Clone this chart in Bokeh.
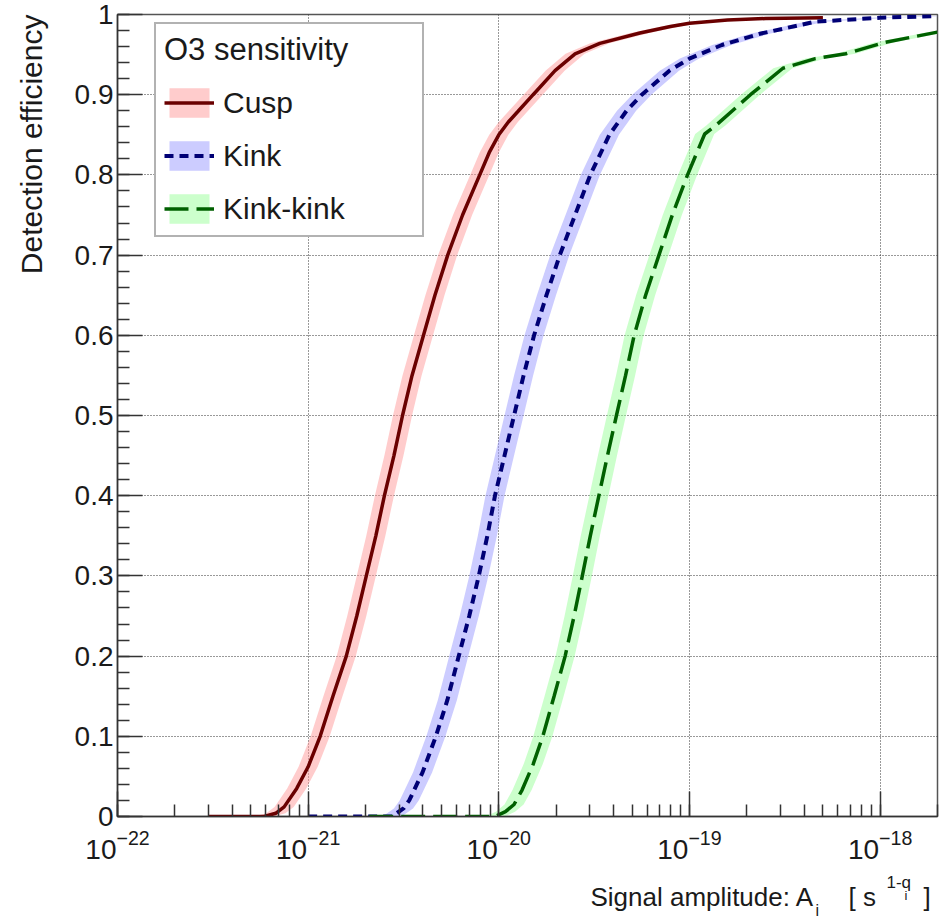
import math
import numpy as np
from bokeh.plotting import figure
from bokeh.layouts import row, column
from bokeh.models import Legend, LegendItem, SingleIntervalTicker, Range1d
from bokeh.core.properties import value
from bokeh.embed import file_html
from bokeh.resources import INLINE

# ---- data (log10 of signal amplitude, detection efficiency) ----
cusp_logA = [-21.52, -21.23, -21.17, -21.126, -21.06, -21.0, -20.937, -20.87, -20.80,
             -20.745, -20.695, -20.645, -20.60, -20.55, -20.505, -20.455, -20.395,
             -20.335, -20.268, -20.19, -20.10, -20.05, -20.0, -19.95, -19.9, -19.82,
             -19.705, -19.6, -19.47, -19.26, -19.1, -19.0, -18.8, -18.6, -18.3]
cusp_eff = [0.0, 0.0, 0.004, 0.012, 0.035, 0.062, 0.10, 0.15, 0.20,
            0.25, 0.30, 0.35, 0.40, 0.45, 0.50, 0.55, 0.60,
            0.65, 0.70, 0.75, 0.80, 0.828, 0.850, 0.866, 0.879, 0.90,
            0.93, 0.951, 0.964, 0.977, 0.985, 0.989, 0.993, 0.995, 0.996]

kink_logA = [-21.0, -20.56, -20.50, -20.47, -20.40, -20.33, -20.27, -20.21, -20.155,
             -20.105, -20.06, -20.02, -19.97, -19.92, -19.87, -19.815, -19.75, -19.68,
             -19.60, -19.52, -19.42, -19.33, -19.25, -19.105, -19.0, -18.83, -18.63,
             -18.34, -18.0, -17.7]
kink_eff = [0.0, 0.0, 0.01, 0.02, 0.055, 0.10, 0.145, 0.20, 0.25,
            0.30, 0.35, 0.40, 0.45, 0.50, 0.55, 0.60, 0.65, 0.70,
            0.75, 0.80, 0.85, 0.88, 0.90, 0.930, 0.945, 0.962, 0.976,
            0.991, 0.996, 0.998]

kk_logA = [-20.68, -20.02, -19.965, -19.92, -19.878, -19.82, -19.769, -19.71, -19.652,
           -19.605, -19.562, -19.52, -19.475, -19.43, -19.383, -19.335, -19.29, -19.23,
           -19.16, -19.09, -19.01, -18.92, -18.86, -18.68, -18.51, -18.34, -18.18,
           -17.98, -17.7]
kk_eff = [0.0, 0.0, 0.006, 0.015, 0.033, 0.065, 0.10, 0.15, 0.20,
          0.25, 0.30, 0.35, 0.40, 0.45, 0.50, 0.55, 0.60, 0.65,
          0.70, 0.75, 0.80, 0.851, 0.862, 0.90, 0.933, 0.945, 0.951,
          0.965, 0.978]

band_dex = 0.05  # half-width of the uncertainty band, in decades of amplitude

series_names = ["Cusp", "Kink", "Kink-kink"]
legend_title = "O3 sensitivity"
y_title = "Detection efficiency"
x_title_parts = ["Signal amplitude: A", "i", "[ s", "1-q", "i", "]"]

FONT = "Liberation Sans"
TXT = "#1a1a1a"

# ---------------- main plot ----------------
p = figure(width=888, height=868, x_axis_type="log",
           x_range=(1e-22, 2e-18), y_range=(0, 1),
           output_backend="svg", toolbar_location=None,
           min_border_left=57, min_border_right=11,
           min_border_top=14, min_border_bottom=52)
p.background_fill_color = "white"
p.border_fill_color = "white"
p.outline_line_color = "#555555"
p.outline_line_width = 1.5


def add_series(logA, eff, line_color, band_color, dash, lw):
    logA = np.array(logA)
    eff = np.array(eff)
    x = 10 ** logA
    zeros = np.where(eff == 0)[0]
    i0 = zeros[-1] if len(zeros) else 0
    band = p.harea(y=eff[i0:], x1=10 ** (logA[i0:] - band_dex),
                   x2=10 ** (logA[i0:] + band_dex),
                   fill_color=band_color, fill_alpha=0.5)
    line = p.line(x, eff, line_color=line_color, line_width=lw, line_dash=dash)
    return band, line


cb, cl = add_series(cusp_logA, cusp_eff, "#6a0000", "#ff9999", "solid", 3.5)
kb, kl = add_series(kink_logA, kink_eff, "#000075", "#9999ff", "9 6", 4)
gb, gl = add_series(kk_logA, kk_eff, "#006000", "#99ff99", "24 8", 3.5)

for ax in (p.xaxis[0], p.yaxis[0]):
    ax.axis_line_color = "#333333"
    ax.axis_line_width = 1.5
    ax.major_tick_line_color = "#333333"
    ax.minor_tick_line_color = "#333333"
    ax.major_tick_line_width = 1.5
    ax.minor_tick_line_width = 1.5
    ax.major_tick_in = 25
    ax.major_tick_out = 0
    ax.minor_tick_in = 12
    ax.minor_tick_out = 0
    ax.major_label_text_font = FONT
    ax.major_label_text_font_size = "28px"
    ax.major_label_text_color = TXT

p.yaxis[0].ticker = SingleIntervalTicker(interval=0.1, num_minor_ticks=5)
p.yaxis[0].major_label_overrides = {0: "0", 1: "1"}
p.yaxis[0].major_label_standoff = 4
p.xaxis[0].major_label_standoff = 13

p.ygrid[0].ticker = p.yaxis[0].ticker
for g in (p.xgrid[0], p.ygrid[0]):
    g.grid_line_color = "#333333"
    g.grid_line_dash = "1 2"
    g.grid_line_width = 1

legend = Legend(items=[LegendItem(label=series_names[0], renderers=[cb, cl]),
                       LegendItem(label=series_names[1], renderers=[kb, kl]),
                       LegendItem(label=series_names[2], renderers=[gb, gl])],
                title=legend_title, location=(37, 579))
legend.title_text_font = FONT
legend.title_text_font_size = "31px"
legend.title_text_font_style = "normal"
legend.title_text_color = TXT
legend.title_standoff = 16
legend.label_text_font = FONT
legend.label_text_font_size = "30px"
legend.label_text_color = TXT
legend.glyph_width = 50
legend.glyph_height = 37
legend.label_height = 37
legend.label_standoff = 9
legend.label_width = 191
legend.spacing = 16
legend.padding = 8
legend.margin = 0
legend.border_line_color = "#666666"
legend.border_line_width = 2
legend.background_fill_alpha = 1
p.add_layout(legend)


def text_panel(w, h):
    f = figure(width=w, height=h, x_range=Range1d(0, w), y_range=Range1d(0, h),
               output_backend="svg", toolbar_location=None, min_border=0,
               x_axis_location=None, y_axis_location=None, title_location=None)
    f.outline_line_color = None
    f.background_fill_color = "white"
    f.border_fill_color = "white"
    for g in f.grid:
        g.visible = False
    return f


# ---------------- y-axis title panel (left) ----------------
pl = text_panel(60, 868)
pl.text(x=[31], y=[587], text=[y_title], angle=math.pi / 2,
        text_align="left", text_baseline="alphabetic",
        text_font=value(FONT), text_font_size=value("30px"), text_color=TXT)

# ---------------- x-axis title panel (bottom) ----------------
pb = text_panel(948, 50)
xt_pos = [(590, 22, "26px"), (815, 8, "16px"), (848, 22, "26px"),
          (886, 36, "17px"), (904, 23, "13px"), (923, 22, "26px")]
for t, (xx, yy, fs) in zip(x_title_parts, xt_pos):
    pb.text(x=[xx], y=[yy], text=[t], text_align="left", text_baseline="alphabetic",
            text_font=value(FONT), text_font_size=value(fs), text_color=TXT)

layout = column(row(pl, p), pb)
open("out.html", "w").write(file_html(layout, INLINE))
